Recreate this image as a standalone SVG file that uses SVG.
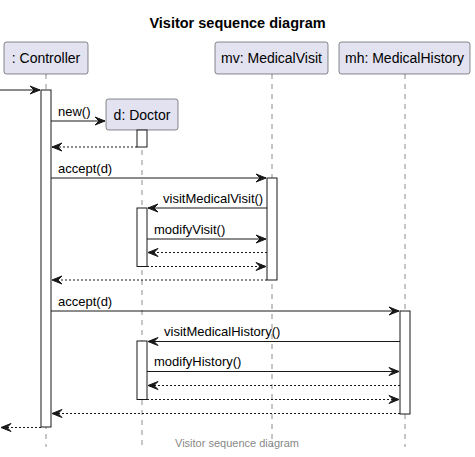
<svg xmlns="http://www.w3.org/2000/svg" width="475" height="457" viewBox="0 0 475 457">
<style>
.title{font-family:"Liberation Sans",Arial,sans-serif;font-size:14.5px;font-weight:bold;fill:#000}
.pbox{fill:#E2E2F0;stroke:#181818;stroke-width:0.5}
.ptext{font-family:"Liberation Sans",Arial,sans-serif;font-size:14px;fill:#000;text-anchor:middle}
.life{stroke:#181818;stroke-width:0.5;stroke-dasharray:5,5;fill:none}
.act{fill:#FFFFFF;stroke:#181818;stroke-width:1}
.msg{stroke:#181818;stroke-width:1;fill:none;marker-end:url(#arr)}
.ret{stroke:#181818;stroke-width:1;stroke-dasharray:2,2;fill:none;marker-end:url(#arr)}
.lbl{font-family:"Liberation Sans",Arial,sans-serif;font-size:13px;fill:#000}
.foot{font-family:"Liberation Sans",Arial,sans-serif;font-size:11px;fill:#888888;text-anchor:middle}
</style>
<defs>
<marker id="arr" markerUnits="userSpaceOnUse" markerWidth="10" markerHeight="8" refX="10" refY="4" orient="auto" overflow="visible">
<path d="M0,0 L10,4 L0,8 L4,4 Z" fill="#181818" stroke="#181818" stroke-width="1" stroke-dasharray="none"/>
</marker>
</defs>
<rect width="475" height="457" fill="#FFFFFF"/>
<text class="title" x="237.5" y="28" text-anchor="middle">Visitor sequence diagram</text>
<g id="lifelines">
<line class="life" x1="46" y1="74" x2="46" y2="447"/>
<line class="life" x1="142" y1="130" x2="142" y2="447"/>
<line class="life" x1="272" y1="74" x2="272" y2="447"/>
<line class="life" x1="405" y1="74" x2="405" y2="447"/>
</g>
<g id="controller">
<rect class="pbox" x="4" y="42" width="84" height="32" rx="2.5"/>
<text class="ptext" x="46" y="63">: Controller</text>
<rect class="act" x="41" y="90" width="10" height="337"/>
</g>
<g id="doctor">
<rect class="pbox" x="106" y="99" width="72" height="31" rx="2.5"/>
<text class="ptext" x="142" y="120">d: Doctor</text>
<rect class="act" x="137" y="130" width="10" height="17"/>
<rect class="act" x="137" y="208" width="10" height="58.5"/>
<rect class="act" x="137" y="341" width="10" height="58.5"/>
</g>
<g id="medicalvisit">
<rect class="pbox" x="215" y="42" width="113" height="32" rx="2.5"/>
<text class="ptext" x="271.5" y="63">mv: MedicalVisit</text>
<rect class="act" x="267" y="178" width="10" height="102"/>
</g>
<g id="medicalhistory">
<rect class="pbox" x="339" y="42" width="131" height="32" rx="2.5"/>
<text class="ptext" x="404.5" y="63">mh: MedicalHistory</text>
<rect class="act" x="400" y="311" width="10" height="103"/>
</g>
<g id="connectors">
<line class="msg" x1="0" y1="90" x2="40" y2="90"/>
<line class="msg" x1="51" y1="121" x2="105" y2="121"/>
<text class="lbl" x="58" y="116">new()</text>
<line class="ret" x1="137" y1="147" x2="52" y2="147"/>
<line class="msg" x1="51" y1="178" x2="266" y2="178"/>
<text class="lbl" x="58" y="173">accept(d)</text>
<line class="msg" x1="267" y1="208" x2="148" y2="208"/>
<text class="lbl" x="163" y="203">visitMedicalVisit()</text>
<line class="msg" x1="147" y1="239" x2="266" y2="239"/>
<text class="lbl" x="154" y="234">modifyVisit()</text>
<line class="ret" x1="267" y1="252.5" x2="148" y2="252.5"/>
<line class="ret" x1="147" y1="266.5" x2="266" y2="266.5"/>
<line class="ret" x1="267" y1="280" x2="52" y2="280"/>
<line class="msg" x1="51" y1="311" x2="399" y2="311"/>
<text class="lbl" x="58" y="306">accept(d)</text>
<line class="msg" x1="400" y1="341.5" x2="148" y2="341.5"/>
<text class="lbl" x="164" y="336">visitMedicalHistory()</text>
<line class="msg" x1="147" y1="371.5" x2="399" y2="371.5"/>
<text class="lbl" x="154" y="366">modifyHistory()</text>
<line class="ret" x1="400" y1="385.5" x2="148" y2="385.5"/>
<line class="ret" x1="147" y1="399.5" x2="399" y2="399.5"/>
<line class="ret" x1="400" y1="413.5" x2="52" y2="413.5"/>
<line class="ret" x1="41" y1="427.5" x2="1" y2="427.5"/>
</g>
<text class="foot" x="237" y="447">Visitor sequence diagram</text>
</svg>
